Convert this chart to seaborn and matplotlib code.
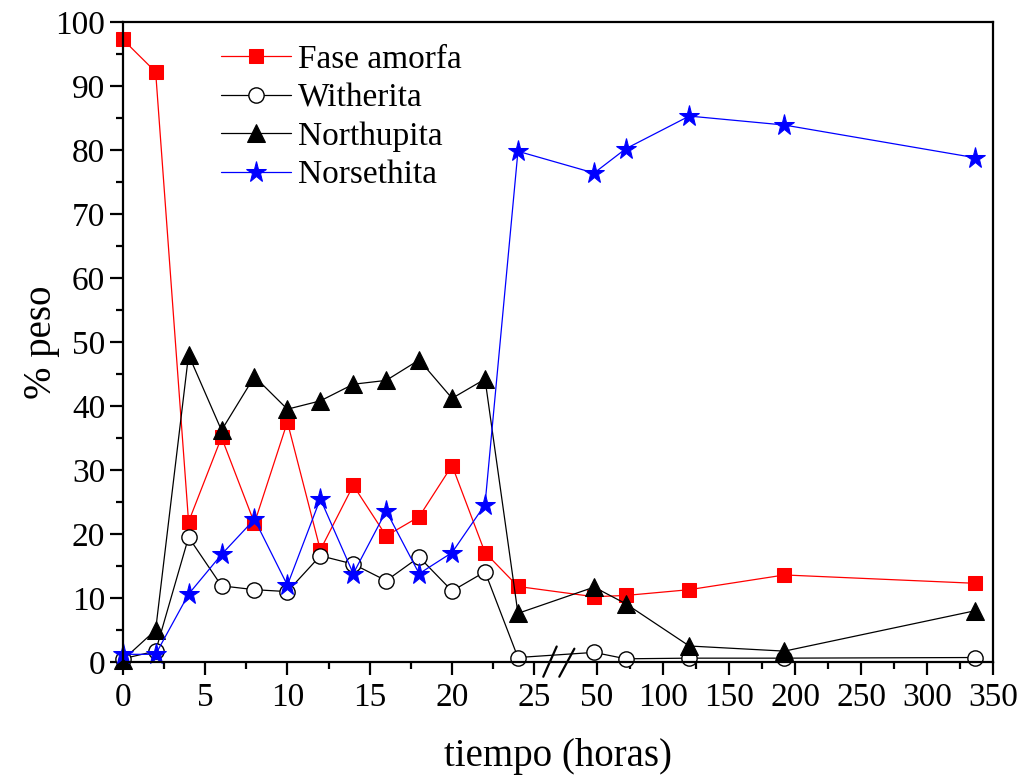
import numpy as np
import pandas as pd
import matplotlib
matplotlib.use("Agg")
import matplotlib.pyplot as plt
import seaborn as sns
from matplotlib.ticker import FixedLocator, NullFormatter

# ---------------- data ----------------
tiempo = [0, 2, 4, 6, 8, 10, 12, 14, 16, 18, 20, 22, 24, 48, 72, 120, 192, 336]
fase_amorfa = [97.3, 92.2, 21.9, 35.1, 21.7, 37.5, 17.5, 27.6, 19.7, 22.7, 30.7, 17.1,
               11.8, 10.2, 10.4, 11.3, 13.6, 12.3]
witherita = [0.5, 1.7, 19.5, 11.9, 11.3, 11.0, 16.6, 15.3, 12.7, 16.4, 11.1, 14.1,
             0.7, 1.5, 0.5, 0.6, 0.6, 0.7]
northupita = [0.3, 5.0, 48.0, 36.2, 44.6, 39.5, 40.8, 43.4, 44.0, 47.2, 41.2, 44.2,
              7.6, 11.7, 9.1, 2.5, 1.7, 8.0]
norsethita = [1.2, 1.2, 10.6, 16.8, 22.3, 12.0, 25.5, 13.8, 23.6, 13.8, 17.1, 24.6,
              79.8, 76.4, 80.2, 85.3, 83.9, 78.8]

x_major = [0, 5, 10, 15, 20, 25, 50, 100, 150, 200, 250, 300, 350]
x_minor = [2.5, 7.5, 12.5, 17.5, 22.5, 75, 125, 175, 225, 275, 325]
y_major = list(range(0, 101, 10))
y_minor = list(range(5, 100, 10))

# broken-axis piecewise scale (x knots -> relative length)
KX = [0, 26.45, 30, 350]
KU = [0, 435.6, 447.6, 870.6]

def fwd(x):
    return np.interp(x, KX, KU)

def inv(u):
    return np.interp(u, KU, KX)

sns.set_style("ticks")
plt.rcParams["font.family"] = ["Liberation Serif", "DejaVu Serif"]
plt.rcParams["text.color"] = "black"
plt.rcParams["axes.labelcolor"] = "black"
plt.rcParams["xtick.color"] = "black"
plt.rcParams["ytick.color"] = "black"

fig = plt.figure(figsize=(10.22, 7.76), dpi=100)
ax = fig.add_axes([122.7 / 1022, 1 - 662 / 776, 870.6 / 1022, 640 / 776])

series = [
    ("Fase amorfa", fase_amorfa, dict(color="red", marker="s", markersize=10.5,
                                      markerfacecolor="red", markeredgecolor="red")),
    ("Witherita", witherita, dict(color="black", marker="o", markersize=11,
                                  markerfacecolor="white", markeredgecolor="black",
                                  markeredgewidth=1.0)),
    ("Northupita", northupita, dict(color="black", marker="^", markersize=13.5,
                                    markerfacecolor="black", markeredgecolor="black")),
    ("Norsethita", norsethita, dict(color="blue", marker="*", markersize=15.5,
                                    markerfacecolor="blue", markeredgecolor="blue")),
]

for name, vals, kw in series:
    df = pd.DataFrame({"tiempo": tiempo, "peso": vals})
    sns.lineplot(data=df, x="tiempo", y="peso", ax=ax, label=name, sort=False,
                 linewidth=0.9, clip_on=False, **kw)

ax.set_xscale("function", functions=(fwd, inv))
ax.set_xlim(0, 350)
ax.set_ylim(0, 100)

ax.xaxis.set_major_locator(FixedLocator(x_major))
ax.xaxis.set_minor_locator(FixedLocator(x_minor))
ax.set_xticklabels([str(v) for v in x_major])
ax.xaxis.set_minor_formatter(NullFormatter())
ax.yaxis.set_major_locator(FixedLocator(y_major))
ax.yaxis.set_minor_locator(FixedLocator(y_minor))
ax.set_yticklabels([str(v) for v in y_major])

for sp in ax.spines.values():
    sp.set_visible(True)
    sp.set_linewidth(1.6)
    sp.set_color("black")

ax.tick_params(axis="both", which="major", direction="out", length=9.5, width=1.6,
               labelsize=24, colors="black", pad=3)
ax.tick_params(axis="both", which="minor", direction="out", length=5, width=1.6)
ax.tick_params(axis="x", which="major", pad=5)
ax.tick_params(top=False, right=False, which="both")

ax.set_xlabel("tiempo (horas)", fontsize=28, labelpad=18)
ax.set_ylabel("% peso", fontsize=28, labelpad=-3)

# axis break marks "//"
for (x0, y0, x1, y1) in [(0.4831, -0.023, 0.4985, 0.0242), (0.5015, -0.023, 0.5188, 0.0208)]:
    ax.plot([x0, x1], [y0, y1], transform=ax.transAxes, color="black", lw=1.6,
            clip_on=False, zorder=10)

ax.legend(loc="upper left", bbox_to_anchor=(0.113, 0.965), frameon=False,
          handlelength=2.1, handletextpad=0.2, labelspacing=0.24, borderpad=0,
          borderaxespad=0, fontsize=24)

fig.savefig("out.png", dpi=100)
